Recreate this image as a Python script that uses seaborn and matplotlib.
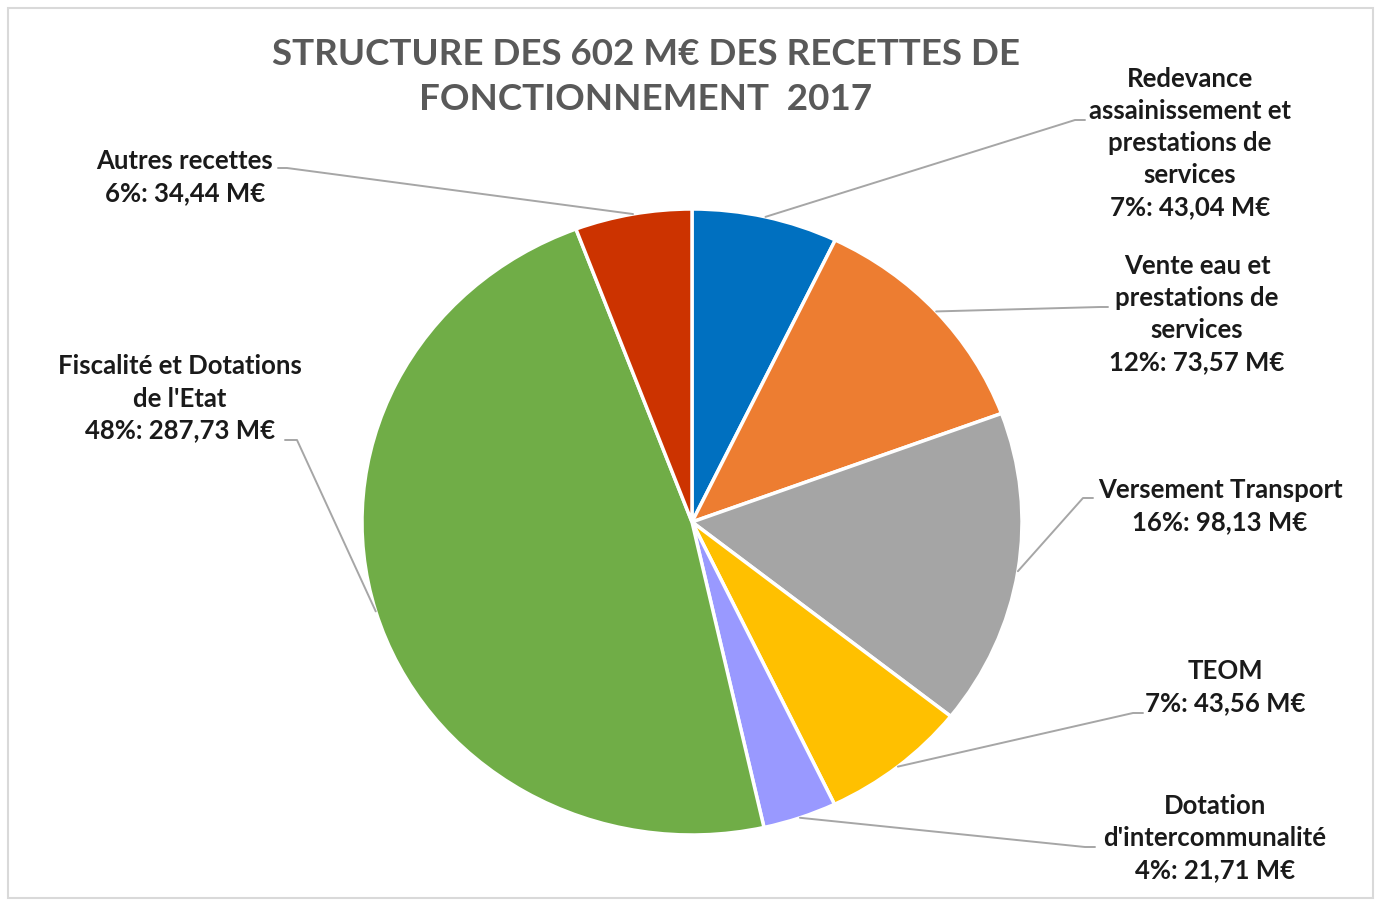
import numpy as np
import matplotlib.pyplot as plt
from matplotlib.lines import Line2D
from matplotlib.patches import Rectangle
import seaborn as sns

categories = ["Redevance\nassainissement et\nprestations de\nservices",
              "Vente eau et\nprestations de\nservices",
              "Versement Transport",
              "TEOM",
              "Dotation\nd'intercommunalité",
              "Fiscalité et Dotations\nde l'Etat",
              "Autres recettes"]
values = [43.04, 73.57, 98.13, 43.56, 21.71, 287.73, 34.44]
colors = ["#0070C0", "#ED7D31", "#A5A5A5", "#FFC000", "#9999FF", "#70AD47", "#CC3300"]

# label centre (x, y of first line) and leader elbow, in image pixels
label_pos = [(1190, 78), (1197, 265), (1220, 490), (1225, 671), (1215, 806), (180, 366), (185, 161)]
elbows = [((1075, 120), (1085, 120)), ((1100, 307), (1108, 307)), ((1083, 498), (1093, 498)),
          ((1133, 713), (1143, 713)), ((1085, 847), (1095, 847)), ((297, 440), (285, 440)),
          ((287, 168), (278, 168))]

sns.set_theme(style="white")
plt.rcParams['font.family'] = ['Lato', 'DejaVu Sans']

W, H = 1377, 906
fig = plt.figure(figsize=(W / 100, H / 100), dpi=100)
fig.patch.set_facecolor("white")

# pie bounding box in image pixels
cx, cy, rx, ry = 692, 522, 330, 313
ax = fig.add_axes([(cx - rx) / W, (H - cy - ry) / H, 2 * rx / W, 2 * ry / H])
wedges, _ = ax.pie(values, colors=colors, startangle=90, counterclock=False, radius=1,
                   wedgeprops=dict(edgecolor="white", linewidth=2.5))
ax.set_xlim(-1, 1)
ax.set_ylim(-1, 1)
ax.set_aspect("auto")
ax.axis("off")

total = sum(values)
line_col = "#A6A6A6"
step = 32.5
for w, name, v, (lx, ly), (e1, e2) in zip(wedges, categories, values, label_pos, elbows):
    ang = np.deg2rad((w.theta1 + w.theta2) / 2)
    px = cx + rx * np.cos(ang)
    py = cy - ry * np.sin(ang)
    xs = [px, e1[0], e2[0]]
    ys = [py, e1[1], e2[1]]
    fig.add_artist(Line2D([x / W for x in xs], [1 - y / H for y in ys],
                          transform=fig.transFigure, color=line_col, lw=1.4))
    txt = f"{name}\n{round(v / total * 100)}%: {v:.2f} M€".replace(".", ",")
    n = txt.count("\n") + 1
    yc = ly + (n - 1) * step / 2
    fig.text(lx / W, 1 - yc / H, txt, ha="center", va="center", fontsize=18.5,
             fontweight="bold", color="#1a1a1a", linespacing=1.4, multialignment="center")

fig.text(646 / W, 1 - 77 / H, "STRUCTURE DES 602 M€ DES RECETTES DE\nFONCTIONNEMENT  2017",
         ha="center", va="center", fontsize=26.5, fontweight="bold", color="#595959",
         linespacing=1.47)

fig.add_artist(Rectangle((8 / W, 8 / H), 1365 / W, 890 / H, transform=fig.transFigure,
                         fill=False, edgecolor="#D9D9D9", lw=1.5))

fig.savefig("out.png", dpi=100)
